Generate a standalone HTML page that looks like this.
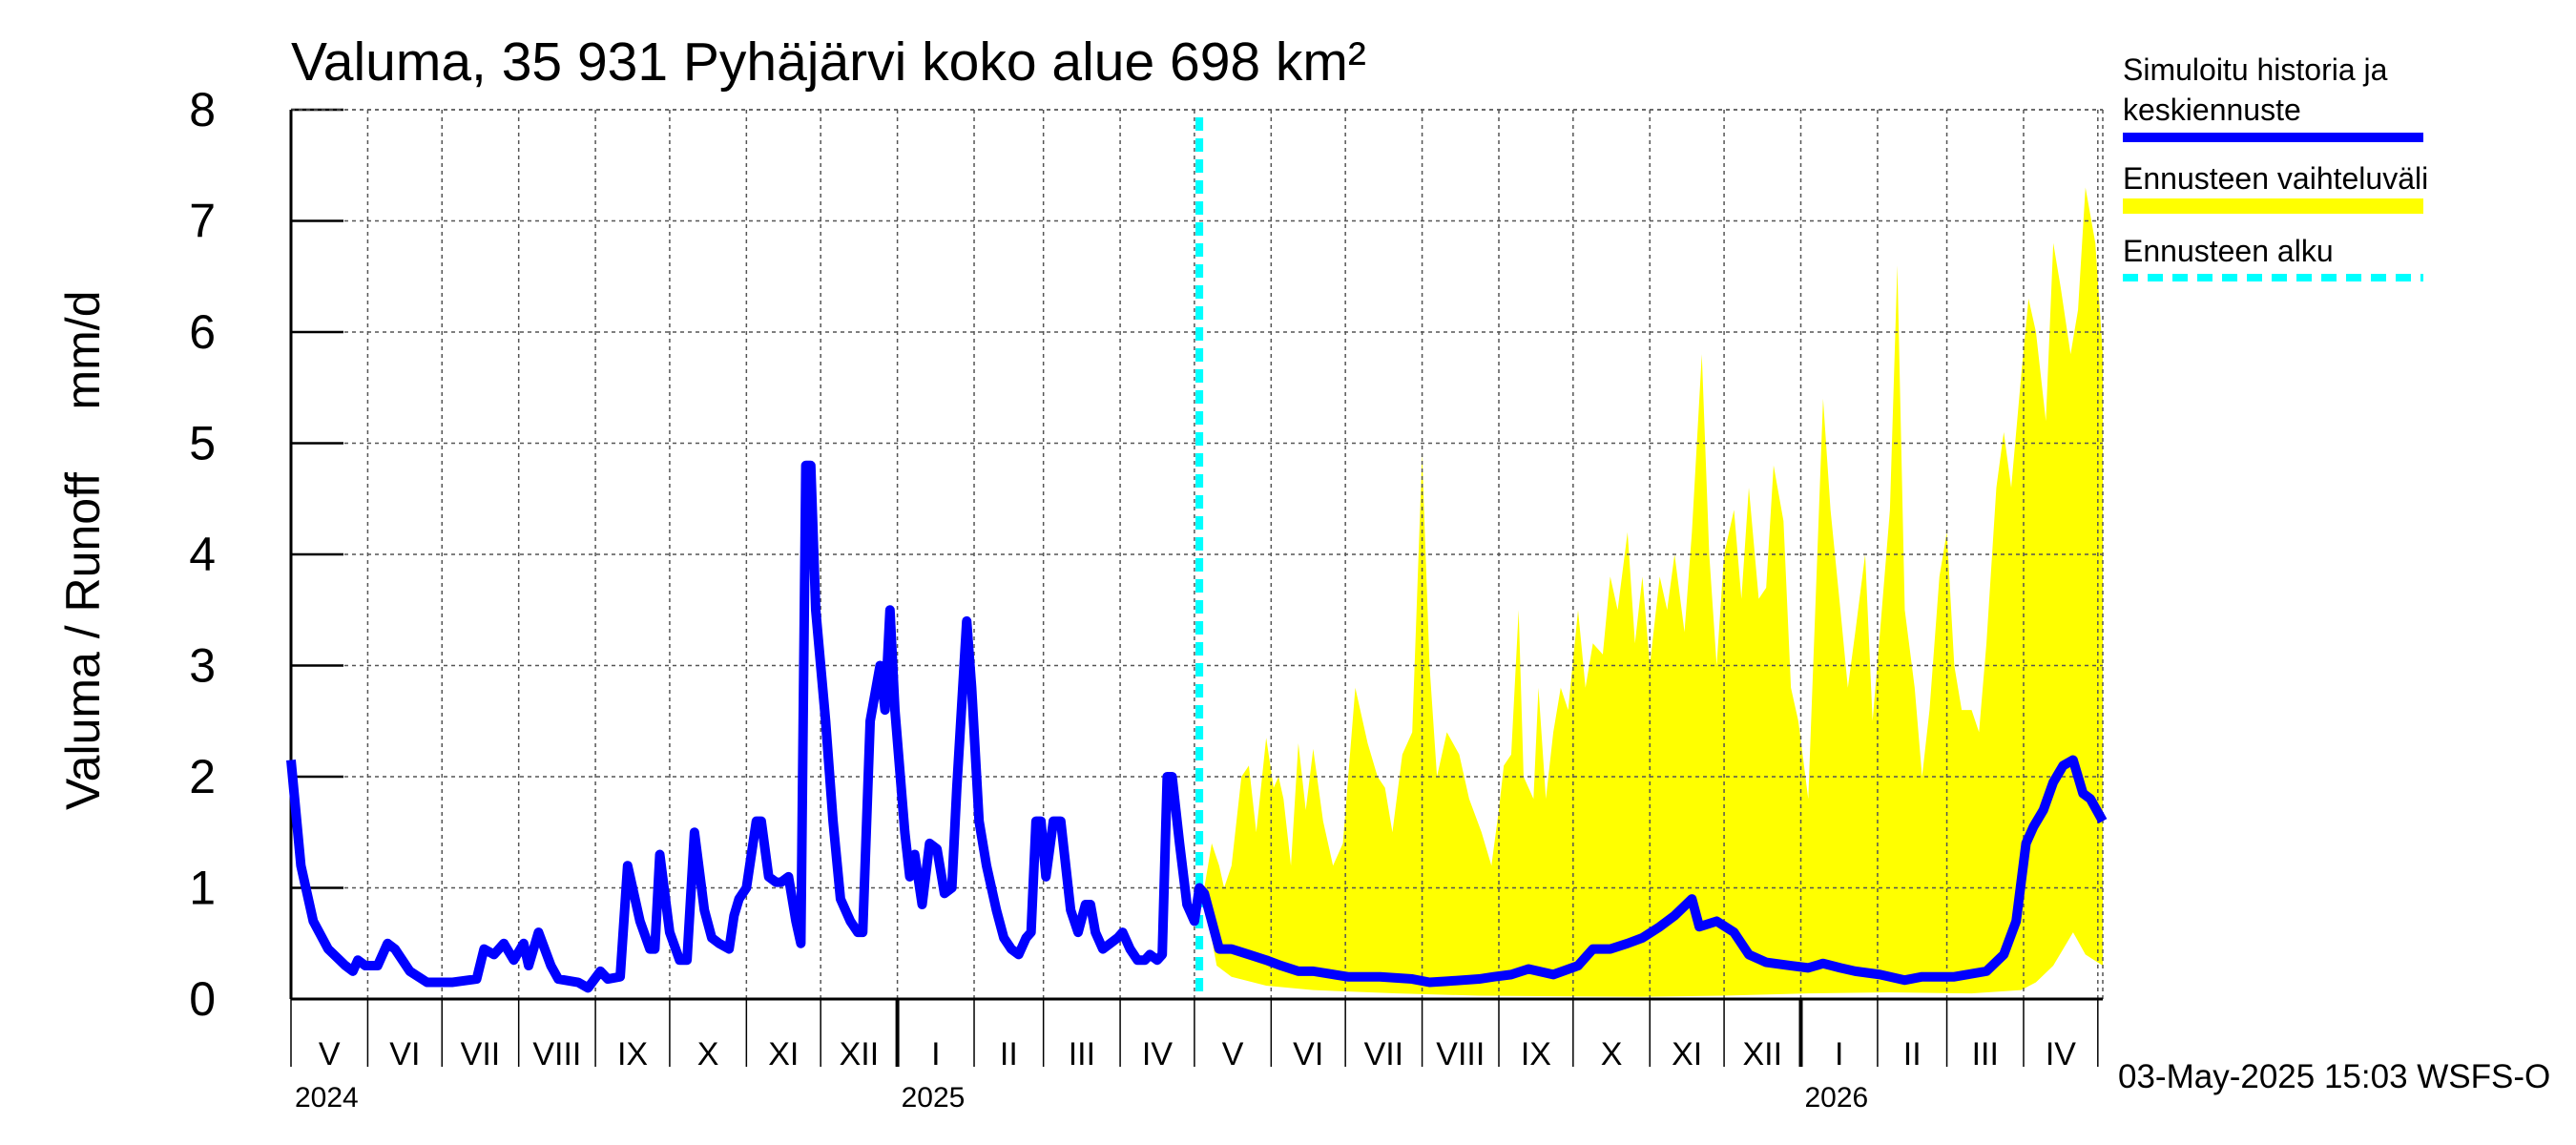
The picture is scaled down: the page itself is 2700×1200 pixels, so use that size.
<!DOCTYPE html>
<html><head><meta charset="utf-8"><style>
html,body{margin:0;padding:0;background:#fff;}
svg{display:block;font-family:"Liberation Sans",sans-serif;}
</style></head><body>
<svg id="chart" width="2700" height="1200" viewBox="0 0 2700 1200">
<rect x="0" y="0" width="2700" height="1200" fill="#fff"/>
<text x="305" y="84" font-size="57">Valuma, 35 931 Pyhäjärvi koko alue 698 km²</text>
<g id="plot"></g>
<text transform="translate(104,672) rotate(-90)" text-anchor="middle" font-size="50">Valuma / Runoff</text>
<text transform="translate(104,367) rotate(-90)" text-anchor="middle" font-size="50">mm/d</text>
<g>
<text x="2225" y="84" font-size="32">Simuloitu historia ja</text>
<text x="2225" y="126" font-size="32">keskiennuste</text>
<line x1="2225" y1="144" x2="2540" y2="144" stroke="#0000ff" stroke-width="10"/>
<text x="2225" y="198" font-size="32">Ennusteen vaihteluväli</text>
<line x1="2225" y1="216" x2="2540" y2="216" stroke="#ffff00" stroke-width="16"/>
<text x="2225" y="274" font-size="32">Ennusteen alku</text>
<line x1="2225" y1="291" x2="2540" y2="291" stroke="#00ffff" stroke-width="8" stroke-dasharray="16,10"/>
</g>
<text x="2220" y="1140" font-size="35">03-May-2025 15:03 WSFS-O</text>
</svg>
<script>
const histDays=[0,4,9,15,22,25,27,30,35,39,42,48,55,65,75,78,82,86,90,94,96,100,105,108,116,120,125,128,133,136,141,145,147,149,153,157,160,163,167,170,173,177,179,181,184,188,190,193,196,198,201,204,206,208,210,212,216,219,222,226,229,231,234,238,240,242,244,248,250,252,255,258,261,264,267,269,273,275,278,281,285,288,291,294,297,299,301,303,305,308,311,313,315,318,321,323,325,328,331,334,336,339,342,345,347,350,352,354,356,359,362,365,367];
const histVals=[2.15,1.2,0.7,0.45,0.3,0.25,0.35,0.3,0.3,0.5,0.45,0.25,0.15,0.15,0.18,0.45,0.4,0.5,0.35,0.5,0.3,0.6,0.3,0.18,0.15,0.1,0.25,0.18,0.2,1.2,0.7,0.45,0.45,1.3,0.6,0.35,0.35,1.5,0.8,0.55,0.5,0.45,0.75,0.9,1.0,1.6,1.6,1.1,1.05,1.05,1.1,0.7,0.5,4.8,4.8,3.5,2.5,1.6,0.9,0.7,0.6,0.6,2.5,3.0,2.6,3.5,2.6,1.5,1.1,1.3,0.85,1.4,1.35,0.95,1.0,1.9,3.4,2.8,1.6,1.2,0.8,0.55,0.45,0.4,0.55,0.6,1.6,1.6,1.1,1.6,1.6,1.2,0.8,0.6,0.85,0.85,0.6,0.45,0.5,0.55,0.6,0.45,0.35,0.35,0.4,0.35,0.4,2.0,2.0,1.4,0.85,0.7,1.0];
const fcDays=[369,372,375,380,387,394,400,407,413,427,440,453,460,467,480,486,493,500,510,520,526,533,540,546,553,559,566,569,576,583,589,596,606,613,619,626,632,642,652,659,672,685,692,697,701,704,708,712,716,720,724,727,732];
const fcVals=[0.95,0.7,0.45,0.45,0.4,0.35,0.3,0.25,0.25,0.2,0.2,0.18,0.15,0.16,0.18,0.2,0.22,0.27,0.22,0.3,0.45,0.45,0.5,0.55,0.65,0.75,0.9,0.65,0.7,0.6,0.4,0.33,0.3,0.28,0.32,0.28,0.25,0.22,0.17,0.2,0.2,0.25,0.4,0.7,1.4,1.55,1.7,1.95,2.1,2.15,1.85,1.8,1.6];
const upDays=[369,372,375,377,380,384,387,390,394,397,399,401,404,407,410,413,417,421,425,430,435,439,442,445,449,453,457,460,463,467,472,476,481,485,488,490,493,496,498,502,504,507,510,513,516,520,523,526,530,533,536,540,543,546,549,553,556,559,563,566,570,573,576,579,583,586,589,593,596,599,603,606,609,613,616,619,622,626,629,632,636,639,642,646,649,652,656,659,662,666,669,672,675,679,682,685,689,692,695,699,702,705,709,712,715,719,722,725,729,732];
const upVals=[1.0,1.4,1.2,1.0,1.2,2.0,2.1,1.5,2.35,1.9,2.0,1.8,1.2,2.3,1.7,2.25,1.6,1.2,1.4,2.8,2.3,2.0,1.9,1.5,2.2,2.4,4.9,3.0,2.0,2.4,2.2,1.8,1.5,1.2,1.7,2.1,2.2,3.5,2.0,1.8,2.8,1.8,2.4,2.8,2.6,3.5,2.8,3.2,3.1,3.8,3.5,4.2,3.2,3.8,3.0,3.8,3.5,4.0,3.3,4.2,5.8,4.0,3.0,4.0,4.4,3.6,4.6,3.6,3.7,4.8,4.3,2.8,2.5,1.8,3.6,5.4,4.4,3.5,2.8,3.3,4.0,2.5,3.3,4.4,6.6,3.5,2.8,2.0,2.6,3.8,4.2,3.0,2.6,2.6,2.4,3.2,4.6,5.1,4.6,5.6,6.3,6.0,5.2,6.8,6.4,5.8,6.2,7.3,6.8,5.8];
const loDays=[369,374,380,394,413,447,480,546,579,613,646,679,699,705,712,720,725,732];
const loVals=[0.9,0.3,0.2,0.12,0.08,0.05,0.03,0.02,0.03,0.05,0.06,0.05,0.08,0.15,0.3,0.6,0.4,0.3];
const yTicks=[0,1,2,3,4,5,6,7,8];
const monthStarts=[0,31,61,92,123,153,184,214,245,276,304,335,365,396,426,457,488,518,549,579,610,641,669,700,730];
const monthLabels=["V","VI","VII","VIII","IX","X","XI","XII","I","II","III","IV","V","VI","VII","VIII","IX","X","XI","XII","I","II","III","IV"];
const yearStarts=[0,245,610];
const yearLabels=["2024","2025","2026"];
const forecastStart=367;

const L=305,R=2204,T=115,B=1047,DMAX=732;
const xS=d=>L+d*(R-L)/DMAX;
const yS=v=>B-v*(B-T)/8;
const NS="http://www.w3.org/2000/svg";
const plot=document.getElementById('plot');
function mk(tag,attrs){const e=document.createElementNS(NS,tag);for(const k in attrs)e.setAttribute(k,attrs[k]);plot.appendChild(e);return e;}

let pts=upDays.map((d,i)=>xS(d)+','+yS(upVals[i]));
for(let i=loDays.length-1;i>=0;i--)pts.push(xS(loDays[i])+','+yS(loVals[i]));
const band=mk('polygon',{points:pts.join(' '),fill:'#ffff00'});



yTicks.forEach(v=>{
  if(v>0){const g=mk('line',{x1:L,x2:R,y1:yS(v),y2:yS(v),stroke:'#555','stroke-width':1.5,'stroke-dasharray':'4,4'});
  
  }
  const tk=mk('line',{x1:L,x2:L+55,y1:yS(v),y2:yS(v),stroke:'#000','stroke-width':2.5});
  
  
  const t=mk('text',{x:226,y:yS(v)+17,'text-anchor':'end','font-size':50});
  t.textContent=v;
  
  
});
monthStarts.forEach((d,i)=>{
  const x=xS(d);
  if(i>0){const g=mk('line',{x1:x,x2:x,y1:T,y2:B,stroke:'#555','stroke-width':1.5,'stroke-dasharray':'4,4'});
  
  }
  const isYear=yearStarts.includes(d)&&d>0;
  const tk=mk('line',{x1:x,x2:x,y1:B,y2:1118,stroke:'#000','stroke-width':isYear?4:1.5});
  
  
  if(i<monthLabels.length){
    const t=mk('text',{x:(x+xS(monthStarts[i+1]))/2,y:1116,'text-anchor':'middle','font-size':34});
    t.textContent=monthLabels[i];
    
    
  }
});
yearStarts.forEach((d,i)=>{
  const t=mk('text',{x:xS(d)+4,y:1160,'text-anchor':'start','font-size':30});
  t.textContent=yearLabels[i];
  
  
});
const tb=mk('line',{x1:L,x2:R,y1:T,y2:T,stroke:'#555','stroke-width':1.5,'stroke-dasharray':'4,4'});


const rb=mk('line',{x1:R,x2:R,y1:T,y2:B,stroke:'#555','stroke-width':1.5,'stroke-dasharray':'4,4'});


const ax=mk('line',{x1:L,x2:L,y1:T,y2:B,stroke:'#000','stroke-width':3});


const bx=mk('line',{x1:L,x2:R,y1:B,y2:B,stroke:'#000','stroke-width':3});


const fs=mk('line',{x1:xS(forecastStart),x2:xS(forecastStart),y1:T+8,y2:B,stroke:'#00ffff','stroke-width':8,'stroke-dasharray':'14,8'});


const allD=histDays.concat(fcDays), allV=histVals.concat(fcVals);
const line=mk('polyline',{points:allD.map((d,i)=>xS(d)+','+yS(allV[i])).join(' '),fill:'none',stroke:'#0000ff','stroke-width':10,'stroke-linejoin':'round'});


</script>
</body></html>
